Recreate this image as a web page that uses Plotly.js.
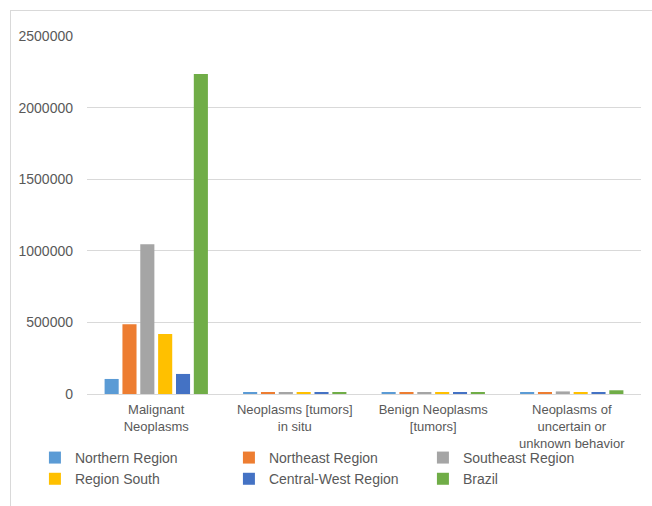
<!DOCTYPE html>
<html>
<head>
<meta charset="utf-8">
<script src="https://cdn.plot.ly/plotly-3.0.1.min.js"></script>
<style>
  html, body { margin: 0; padding: 0; background: #ffffff; }
  #frame { position: absolute; left: 10px; top: 10px; width: 700px; height: 600px; border: 1px solid #d9d9d9; box-sizing: border-box; }
  #chart { position: absolute; left: 0; top: 0; width: 652px; height: 506px; }
</style>
</head>
<body>
<div id="frame"></div>
<div id="chart"></div>
<script>
const categories = [
  "Malignant<br>Neoplasms",
  "Neoplasms [tumors]<br>in situ",
  "Benign Neoplasms<br>[tumors]",
  "Neoplasms of<br>uncertain or<br>unknown behavior"
];
const seriesNames = ["Northern Region", "Northeast Region", "Southeast Region", "Region South", "Central-West Region", "Brazil"];
const northern    = [105000, 9000, 9000, 9000];
const northeast   = [487000, 9000, 9000, 9000];
const southeast   = [1045000, 9000, 9000, 18000];
const south       = [419000, 9000, 9000, 9000];
const centralWest = [140000, 9000, 9000, 9000];
const brazil      = [2235000, 9000, 9000, 26000];
const colors = ["#5B9BD5", "#ED7D31", "#A5A5A5", "#FFC000", "#4472C4", "#70AD47"];
const seriesValues = [northern, northeast, southeast, south, centralWest, brazil];

const traces = seriesValues.map((vals, i) => ({
  type: "bar",
  name: seriesNames[i],
  x: categories,
  y: vals,
  marker: { color: colors[i], line: { width: 0 } },
  hoverinfo: "x+y+name"
}));

const font = { family: "Liberation Sans, Arial, sans-serif", size: 14, color: "#595959" };
const xfont = { family: "Liberation Sans, Arial, sans-serif", size: 13, color: "#595959" };

const layout = {
  width: 652,
  height: 506,
  margin: { l: 87, r: 11, t: 36, b: 112, pad: 0 },
  paper_bgcolor: "rgba(0,0,0,0)",
  plot_bgcolor: "rgba(0,0,0,0)",
  font: font,
  barmode: "group",
  bargap: 0.227,
  bargroupgap: 0.21,
  showlegend: true,
  legend: {
    orientation: "h",
    x: -0.094,
    xanchor: "left",
    y: -0.134,
    yanchor: "top",
    entrywidth: 149,
    font: font,
    bgcolor: "rgba(0,0,0,0)",
    traceorder: "normal"
  },
  xaxis: {
    type: "category",
    showgrid: false,
    showline: false,
    zeroline: false,
    ticks: "",
    ticklabelstandoff: 6,
    tickfont: xfont,
    automargin: false
  },
  yaxis: {
    range: [0, 2500000],
    dtick: 500000,
    tick0: 0,
    tickformat: "d",
    showgrid: true,
    gridcolor: "#d9d9d9",
    gridwidth: 1,
    zeroline: true,
    zerolinecolor: "#d9d9d9",
    zerolinewidth: 1,
    showline: false,
    ticks: "",
    ticklabelstandoff: 13,
    tickfont: font,
    automargin: false
  }
};

Plotly.newPlot("chart", traces, layout, { displayModeBar: false, responsive: false });
</script>
</body>
</html>
